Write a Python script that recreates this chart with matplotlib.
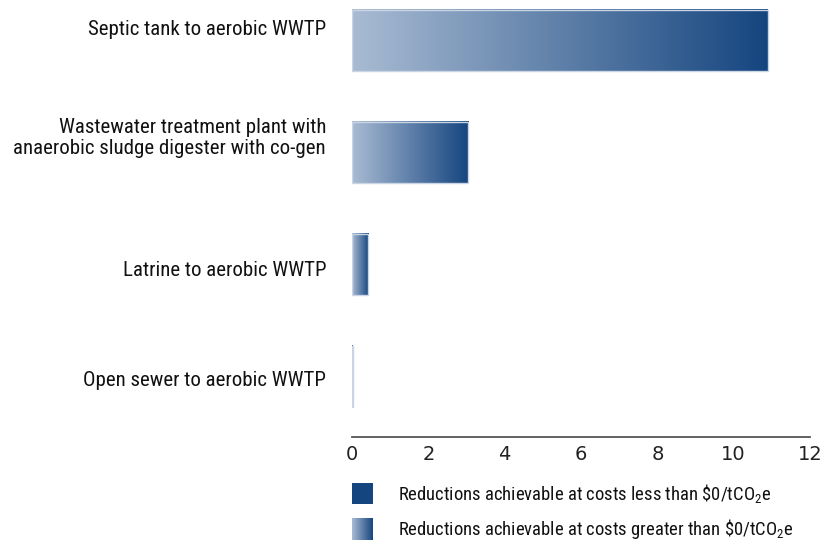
import numpy as np
import matplotlib
matplotlib.use("Agg")
import matplotlib.pyplot as plt
from matplotlib import font_manager as fm
from matplotlib.patches import Rectangle
from matplotlib.colors import LinearSegmentedColormap

# data
categories = [
    "Septic tank to aerobic WWTP",
    "Wastewater treatment plant with\nanaerobic sludge digester with co-gen",
    "Latrine to aerobic WWTP",
    "Open sewer to aerobic WWTP",
]
values = [10.89, 3.04, 0.42, 0.02]
xticks = [0, 2, 4, 6, 8, 10, 12]
legend_labels = [
    r"Reductions achievable at costs less than \$0/tCO$_2$e",
    r"Reductions achievable at costs greater than \$0/tCO$_2$e",
]

light = "#a9bbd3"
dark = "#15457f"
edge = "#c9d5e4"
cmap = LinearSegmentedColormap.from_list("blues", [light, dark])
grad = np.linspace(0, 1, 256).reshape(1, -1)

# pick a condensed face if one is around
have = set(f.name for f in fm.fontManager.ttflist)
cond = "DejaVu Sans"
for name in ["Roboto Condensed", "PT Sans Narrow", "Archivo Narrow",
             "Fira Sans Condensed", "Liberation Sans Narrow", "Open Sans Condensed"]:
    if name in have:
        cond = name
        break
label_font = [cond, "DejaVu Sans"]
plt.rcParams["mathtext.fontset"] = "custom"
plt.rcParams["mathtext.rm"] = cond
plt.rcParams["mathtext.default"] = "rm"

fig = plt.figure(figsize=(8.26, 5.48), dpi=100)
ax = fig.add_axes([352 / 826, 1 - 437 / 548, 458 / 826, 437 / 548])

bar_h = 0.55
for i, v in enumerate(values):
    ax.imshow(grad, cmap=cmap, aspect="auto", interpolation="bilinear",
              extent=[0, v, i + bar_h / 2, i - bar_h / 2], zorder=2)
    ax.add_patch(Rectangle((0, i - bar_h / 2), v, bar_h, fill=False,
                           edgecolor=edge, lw=1, zorder=3))

ax.set_xlim(0, 12)
ax.set_ylim(3.54, -0.36)
ax.set_xticks(xticks)
ax.set_xticklabels([str(t) for t in xticks], fontsize=14, color="#222222")
ax.tick_params(axis="x", length=0, pad=6)
ax.set_yticks([])
for s in ["top", "right", "left"]:
    ax.spines[s].set_visible(False)
ax.spines["bottom"].set_color("#555555")
ax.spines["bottom"].set_linewidth(1.3)

# category labels, nudged like the original
label_shift = [-0.10, -0.13, 0.05, 0.04]
for i, (c, dy) in enumerate(zip(categories, label_shift)):
    ax.text(-0.68, i + dy, c, ha="right", va="center", fontsize=15,
            family=label_font, color="#111111", linespacing=1.15)

# legend
lax = fig.add_axes([352 / 826, 0, 458 / 826, 73 / 548])
lax.axis("off")
lax.add_patch(Rectangle((0, 8), 21, 21, facecolor=dark, edgecolor="none"))
lax.imshow(grad, cmap=cmap, aspect="auto", extent=[0, 21, 65, 43])
lax.set_xlim(0, 458)
lax.set_ylim(73, 0)
for y, lab in zip([18.5, 54], legend_labels):
    lax.text(46, y, lab, va="center", ha="left", fontsize=13.4,
             family=label_font, color="#111111")

fig.savefig("out.png", dpi=100)
